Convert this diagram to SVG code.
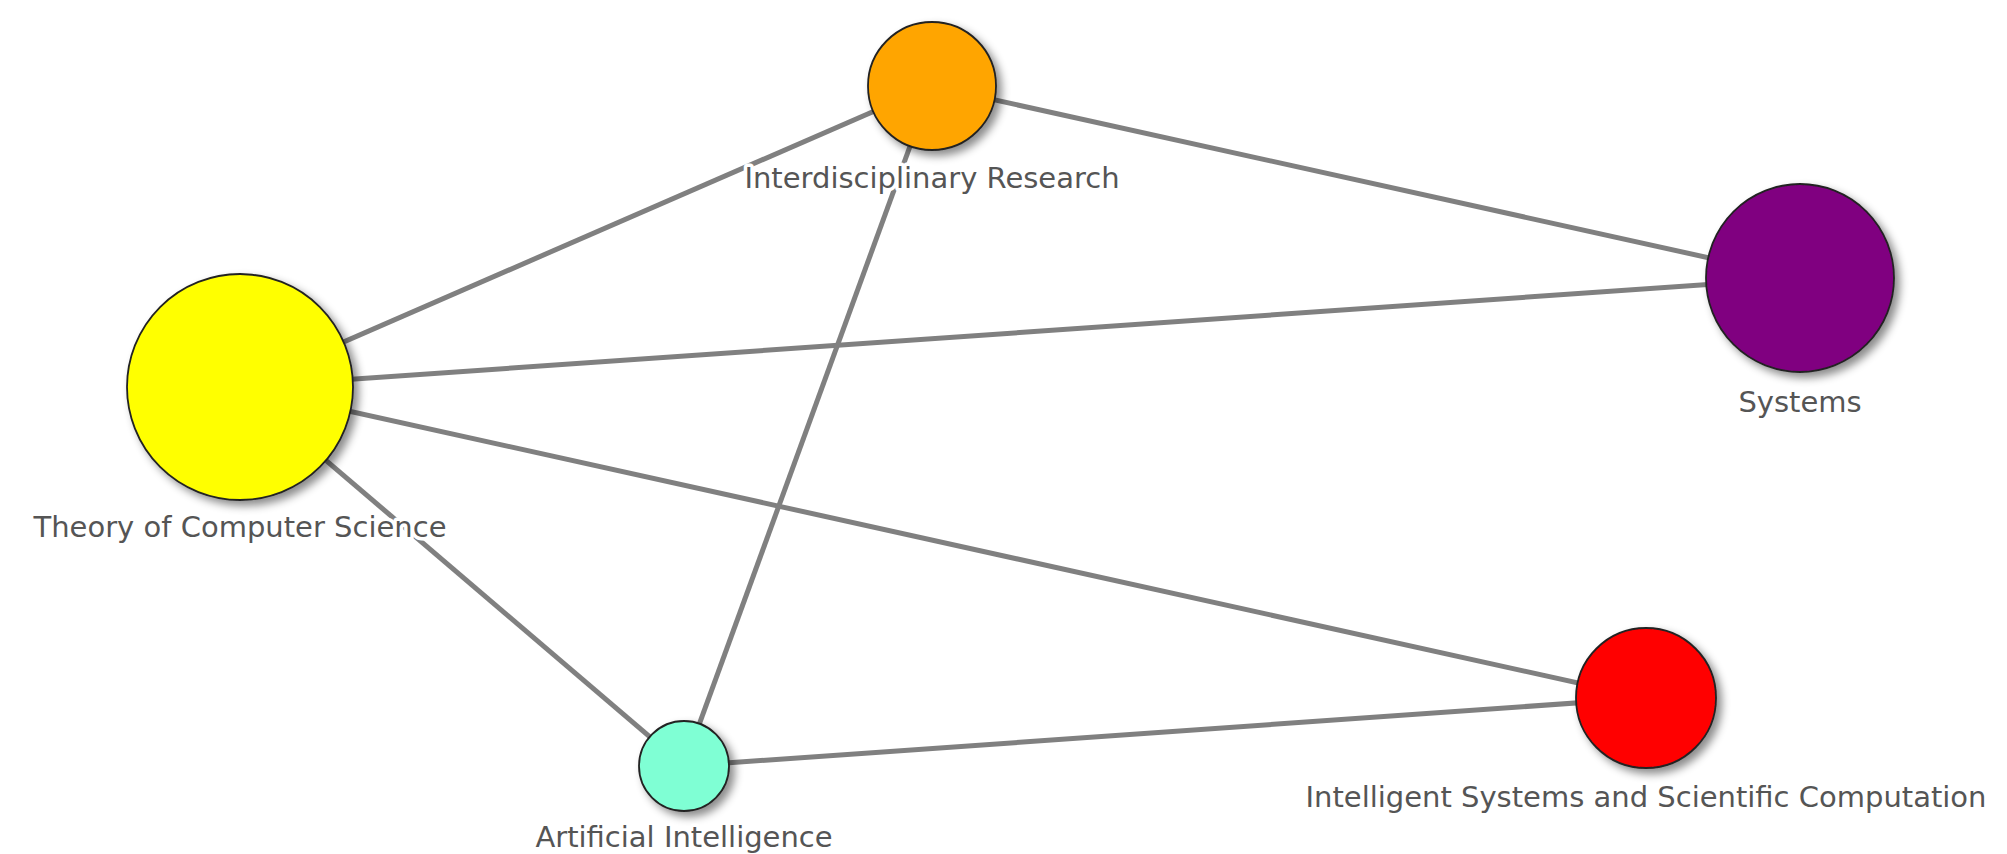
<svg xmlns="http://www.w3.org/2000/svg" width="2007" height="854" viewBox="0 0 2007 854">
<style>
.edge{stroke:#808080;stroke-width:5;fill:none}
.node{stroke:#222;stroke-width:1.8;filter:url(#sh)}
.lbl{font-family:"DejaVu Sans",Verdana,sans-serif;font-size:29px;fill:#555;text-anchor:middle;stroke:#fff;stroke-width:7;stroke-linejoin:round;paint-order:stroke}
</style>
<defs>
<filter id="sh" x="-30%" y="-30%" width="170%" height="170%">
<feDropShadow dx="5" dy="5" stdDeviation="4" flood-color="#000" flood-opacity="0.45"/>
</filter>
</defs>
<rect width="2007" height="854" fill="#fff"/>
<g id="connectors">
<line class="edge" x1="240" y1="387" x2="932" y2="86"/>
<line class="edge" x1="932" y1="86" x2="1800" y2="278"/>
<line class="edge" x1="240" y1="387" x2="1800" y2="278"/>
<line class="edge" x1="240" y1="387" x2="1646" y2="698"/>
<line class="edge" x1="240" y1="387" x2="684" y2="766"/>
<line class="edge" x1="932" y1="86" x2="684" y2="766"/>
<line class="edge" x1="684" y1="766" x2="1646" y2="698"/>
</g>
<g id="node-interdisciplinary">
<circle class="node" cx="932" cy="86" r="64" fill="#FFA500"/>
</g>
<g id="node-systems">
<circle class="node" cx="1800" cy="278" r="94" fill="#800080"/>
</g>
<g id="node-theory">
<circle class="node" cx="240" cy="387" r="113" fill="#FFFF00"/>
</g>
<g id="node-ai">
<circle class="node" cx="684" cy="766" r="45" fill="#7FFFD4"/>
</g>
<g id="node-issc">
<circle class="node" cx="1646" cy="698" r="70" fill="#FF0000"/>
</g>
<g id="labels">
<text class="lbl" x="932" y="188">Interdisciplinary Research</text>
<text class="lbl" x="1800" y="412">Systems</text>
<text class="lbl" x="240" y="537">Theory of Computer Science</text>
<text class="lbl" x="684" y="847">Artificial Intelligence</text>
<text class="lbl" x="1646" y="807">Intelligent Systems and Scientific Computation</text>
</g>
</svg>
